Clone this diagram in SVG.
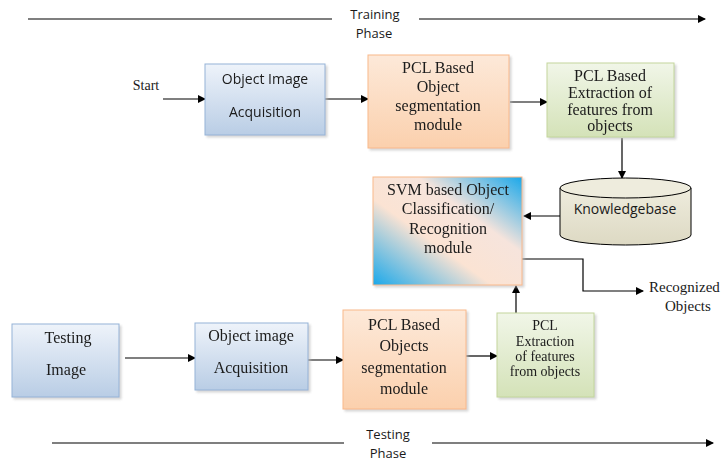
<svg xmlns="http://www.w3.org/2000/svg" width="725" height="462" viewBox="0 0 725 462">
<defs>
<linearGradient id="gBlue" x1="0" y1="0" x2="0" y2="1"><stop offset="0" stop-color="#eef3fa"/><stop offset="1" stop-color="#b9cde5"/></linearGradient>
<linearGradient id="gOrange" x1="0" y1="0" x2="0" y2="1"><stop offset="0" stop-color="#fde9d9"/><stop offset="1" stop-color="#fbd0ad"/></linearGradient>
<linearGradient id="gGreen" x1="0" y1="0" x2="0" y2="1"><stop offset="0" stop-color="#f1f6e8"/><stop offset="1" stop-color="#d4e2b8"/></linearGradient>
<linearGradient id="gSvm" x1="1" y1="0" x2="0" y2="1"><stop offset="0" stop-color="#1aa8ea"/><stop offset="0.35" stop-color="#f6e4dc"/><stop offset="0.6" stop-color="#fbe3d3"/><stop offset="1" stop-color="#1aa8ea"/></linearGradient>
<linearGradient id="gCyl" x1="0" y1="0" x2="0" y2="1"><stop offset="0" stop-color="#eeecdd"/><stop offset="1" stop-color="#ddd9c3"/></linearGradient>
<marker id="ah" markerWidth="8" markerHeight="8" refX="7" refY="4" orient="auto" markerUnits="userSpaceOnUse"><path d="M0,0 L8,4 L0,8 z" fill="#000"/></marker>
<filter id="sh" x="-10%" y="-10%" width="130%" height="130%"><feOffset dx="2" dy="2" in="SourceAlpha" result="o"/><feGaussianBlur in="o" stdDeviation="1" result="b"/><feColorMatrix in="b" type="matrix" values="0 0 0 0 0.5 0 0 0 0 0.5 0 0 0 0 0.5 0 0 0 0.6 0"/><feMerge><feMergeNode/><feMergeNode in="SourceGraphic"/></feMerge></filter>
</defs>
<style>
.blue{fill:url(#gBlue);stroke:#95b3d7;stroke-width:1}
.orange{fill:url(#gOrange);stroke:#f9b98a;stroke-width:1}
.green{fill:url(#gGreen);stroke:#c3d69b;stroke-width:1}
.serif{font-family:"Liberation Serif","DejaVu Serif",serif;font-size:16px;fill:#1a1a1a;text-anchor:middle}
.sans{font-family:"Open Sans","Liberation Sans",sans-serif;font-size:13px;fill:#1a1a1a;text-anchor:middle}
.bs{font-size:14px}
.ln{stroke:#000;stroke-width:1.2;fill:none}
.sm{font-size:14px}
</style>
<g id="connectors">
<line class="ln" x1="28" y1="19" x2="332" y2="19"/>
<line class="ln" x1="419" y1="19" x2="705" y2="19" marker-end="url(#ah)"/>
<line class="ln" x1="52" y1="443" x2="344" y2="443"/>
<line class="ln" x1="432" y1="443" x2="713" y2="443" marker-end="url(#ah)"/>
<line class="ln" x1="163" y1="99" x2="205" y2="99" marker-end="url(#ah)"/>
<line class="ln" x1="325" y1="99" x2="368" y2="99" marker-end="url(#ah)"/>
<line class="ln" x1="510" y1="102" x2="547" y2="102" marker-end="url(#ah)"/>
<line class="ln" x1="622" y1="138" x2="622" y2="178" marker-end="url(#ah)"/>
<line class="ln" x1="560" y1="216" x2="524" y2="216" marker-end="url(#ah)"/>
<polyline class="ln" points="522,259 583,259 583,291 643,291" marker-end="url(#ah)"/>
<line class="ln" x1="516" y1="313" x2="516" y2="286" marker-end="url(#ah)"/>
<line class="ln" x1="125" y1="358" x2="195" y2="358" marker-end="url(#ah)"/>
<line class="ln" x1="308" y1="360" x2="343" y2="360" marker-end="url(#ah)"/>
<line class="ln" x1="466" y1="356" x2="497" y2="356" marker-end="url(#ah)"/>
</g>
<g id="labels">
<text class="sans" x="375" y="19">Training</text>
<text class="sans" x="374" y="38">Phase</text>
<text class="sans" x="388" y="439">Testing</text>
<text class="sans" x="388" y="458">Phase</text>
<text class="serif" x="146" y="90" style="font-size:14px">Start</text>
<text class="serif" x="649" y="292" style="font-size:15px;text-anchor:start">Recognized</text>
<text class="serif" x="665" y="311" style="font-size:15px;text-anchor:start">Objects</text>
</g>
<g id="n_acq1" filter="url(#sh)">
<rect class="blue" x="205" y="64" width="120" height="71"/>
<text class="sans bs" x="265" y="84">Object Image</text>
<text class="sans bs" x="265" y="117">Acquisition</text>
</g>
<g id="n_seg1" filter="url(#sh)">
<rect class="orange" x="368" y="55" width="141" height="93"/>
<text class="serif" x="438" y="73">PCL Based</text>
<text class="serif" x="438" y="92">Object</text>
<text class="serif" x="438" y="111">segmentation</text>
<text class="serif" x="438" y="130">module</text>
</g>
<g id="n_feat1" filter="url(#sh)">
<rect class="green" x="547" y="63" width="127" height="74"/>
<text class="serif" x="610" y="81">PCL Based</text>
<text class="serif" x="610" y="98">Extraction of</text>
<text class="serif" x="610" y="115">features from</text>
<text class="serif" x="610" y="131">objects</text>
</g>
<g id="n_kb">
<path d="M560,188 L560,235 A65.5,10 0 0 0 691,235 L691,188" fill="url(#gCyl)" stroke="#000" stroke-width="1"/>
<ellipse cx="625.5" cy="188" rx="65.5" ry="10" fill="#eeecdd" stroke="#000" stroke-width="1"/>
<text class="sans bs" x="625" y="214">Knowledgebase</text>
</g>
<g id="n_svm" filter="url(#sh)">
<rect x="373" y="177" width="149" height="108" fill="url(#gSvm)" stroke="#f9b98a" stroke-width="1"/>
<text class="serif" x="448" y="195">SVM based Object</text>
<text class="serif" x="448" y="214">Classification/</text>
<text class="serif" x="448" y="234">Recognition</text>
<text class="serif" x="448" y="253">module</text>
</g>
<g id="n_test" filter="url(#sh)">
<rect class="blue" x="12" y="324" width="107" height="73"/>
<text class="serif" x="68" y="343">Testing</text>
<text class="serif" x="66" y="375">Image</text>
</g>
<g id="n_acq2" filter="url(#sh)">
<rect class="blue" x="195" y="323" width="113" height="67"/>
<text class="serif" x="251" y="341">Object image</text>
<text class="serif" x="251" y="373">Acquisition</text>
</g>
<g id="n_seg2" filter="url(#sh)">
<rect class="orange" x="343" y="310" width="123" height="99"/>
<text class="serif" x="404" y="330">PCL Based</text>
<text class="serif" x="404" y="351">Objects</text>
<text class="serif" x="404" y="373">segmentation</text>
<text class="serif" x="404" y="394">module</text>
</g>
<g id="n_feat2" filter="url(#sh)">
<rect class="green" x="497" y="313" width="97" height="84"/>
<text class="serif sm" x="545" y="330">PCL</text>
<text class="serif sm" x="545" y="346">Extraction</text>
<text class="serif sm" x="545" y="361">of features</text>
<text class="serif sm" x="545" y="376">from objects</text>
</g>
</svg>
